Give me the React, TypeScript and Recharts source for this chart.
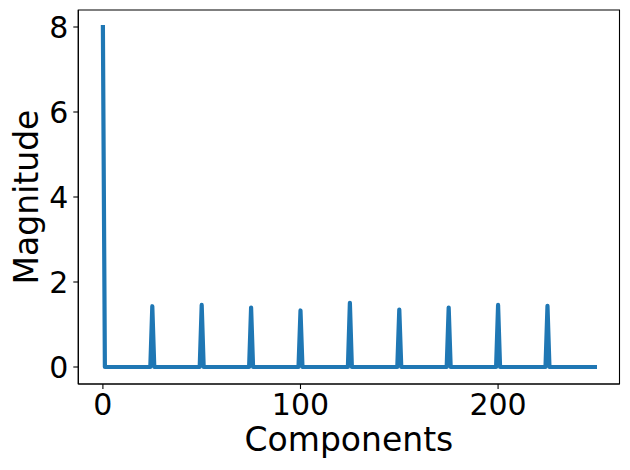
import { LineChart, Line, XAxis, YAxis, ReferenceArea } from 'recharts'

// spectrum: zero everywhere except a few spikes
const componentCount = 250
const peakIndices = [0, 25, 50, 75, 100, 125, 150, 175, 200, 225]
const peakValues = [8, 1.43, 1.46, 1.4, 1.33, 1.51, 1.35, 1.4, 1.46, 1.44]
const xTicks = [0, 100, 200]
const yTicks = [0, 2, 4, 6, 8]

const data = Array.from({ length: componentCount }, (_, i) => {
  const k = peakIndices.indexOf(i)
  return { x: i, y: k >= 0 ? peakValues[k] : 0 }
})

const FONT = 'DejaVu Sans'
const xDomain = [-12.45, 261.45]
const yDomain = [-0.4, 8.4]

const XLabel = ({ viewBox }: any) => {
  const { x, width } = viewBox
  return (
    <text x={x + width / 2} y={451} textAnchor="middle" fontSize={33} fontFamily={FONT} fill="#000">
      Components
    </text>
  )
}

const YLabel = ({ viewBox }: any) => {
  const { y, height } = viewBox
  const cx = 37.5
  const cy = y + height / 2
  return (
    <text
      x={cx}
      y={cy}
      textAnchor="middle"
      fontSize={33}
      fontFamily={FONT}
      fill="#000"
      transform={`rotate(-90, ${cx}, ${cy})`}
    >
      Magnitude
    </text>
  )
}

export default function App() {
  const tick = { fill: '#000', fontSize: 30, fontFamily: FONT }
  return (
    <div style={{ position: 'absolute', left: 0, top: 0, background: '#fff' }}>
      <LineChart width={630} height={470} data={data} margin={{ top: 10, right: 10.5, left: 0, bottom: 0 }}>
        <XAxis
          dataKey="x"
          type="number"
          domain={xDomain}
          ticks={xTicks}
          height={86}
          tick={tick}
          tickSize={5}
          tickMargin={5}
          axisLine={{ stroke: '#000', strokeWidth: 1.1 }}
          tickLine={{ stroke: '#000', strokeWidth: 1.1 }}
          label={<XLabel />}
        />
        <YAxis
          type="number"
          domain={yDomain}
          ticks={yTicks}
          width={78.3}
          tick={tick}
          tickSize={5}
          tickMargin={5}
          axisLine={{ stroke: '#000', strokeWidth: 1.1 }}
          tickLine={{ stroke: '#000', strokeWidth: 1.1 }}
          label={<YLabel />}
        />
        {/* axes frame */}
        <ReferenceArea
          x1={xDomain[0]}
          x2={xDomain[1]}
          y1={yDomain[0]}
          y2={yDomain[1]}
          fill="none"
          stroke="#000"
          strokeWidth={1.1}
          ifOverflow="visible"
        />
        <Line
          type="linear"
          dataKey="y"
          stroke="#1f77b4"
          strokeWidth={4.2}
          strokeLinecap="square"
          strokeLinejoin="round"
          dot={false}
          activeDot={false}
          isAnimationActive={false}
        />
      </LineChart>
    </div>
  )
}
